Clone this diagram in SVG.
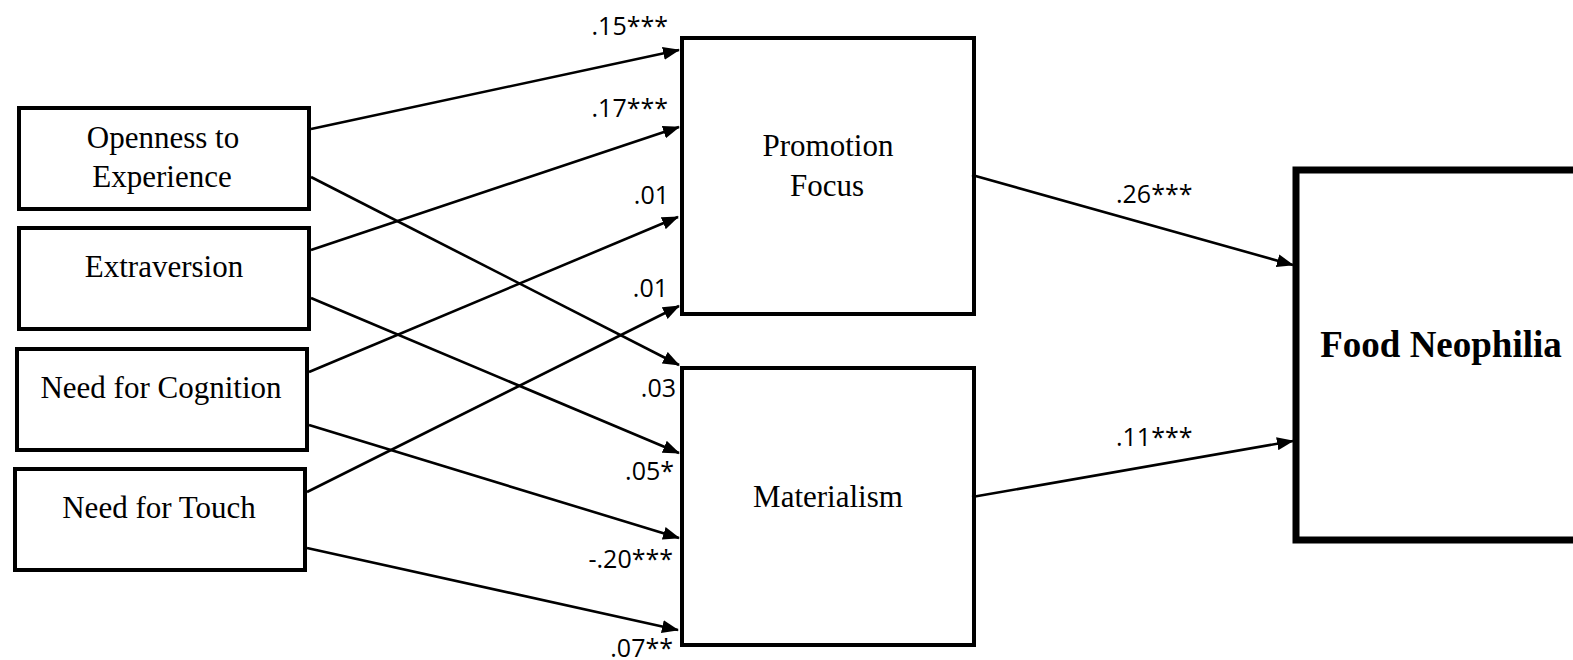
<svg xmlns="http://www.w3.org/2000/svg" width="1573" height="660" viewBox="0 0 1573 660">
  <style>
    .box { fill: #fff; stroke: #000; stroke-width: 4; }
    .outcome { fill: #fff; stroke: #000; stroke-width: 7; }
    .lbl { font-family: "Liberation Serif", "Times New Roman", serif; font-size: 31px; fill: #000; text-anchor: middle; }
    .bold { font-weight: bold; font-size: 37px; }
    .coef { font-family: "Open Sans", "Liberation Sans", sans-serif; font-size: 25px; fill: #000; }
    .path { stroke: #000; stroke-width: 2.6; fill: none; marker-end: url(#arrow); }
  </style>
  <defs>
    <marker id="arrow" markerUnits="userSpaceOnUse" markerWidth="17" markerHeight="13" refX="16" refY="6.5" orient="auto">
      <path d="M0,0 L17,6.5 L0,13 z" fill="#000"/>
    </marker>
  </defs>
  <rect width="1573" height="660" fill="#fff"/>

  <!-- predictors -->
  <g id="openness">
    <rect class="box" x="19" y="108" width="290" height="101"/>
    <text class="lbl" x="163" y="148">Openness to</text>
    <text class="lbl" x="162" y="187">Experience</text>
  </g>
  <g id="extraversion">
    <rect class="box" x="19" y="228" width="290" height="101"/>
    <text class="lbl" x="164" y="277">Extraversion</text>
  </g>
  <g id="need-for-cognition">
    <rect class="box" x="17" y="349" width="290" height="101"/>
    <text class="lbl" x="161" y="398">Need for Cognition</text>
  </g>
  <g id="need-for-touch">
    <rect class="box" x="15" y="469" width="290" height="101"/>
    <text class="lbl" x="159" y="518">Need for Touch</text>
  </g>

  <!-- mediators -->
  <g id="promotion-focus">
    <rect class="box" x="682" y="38" width="292" height="276"/>
    <text class="lbl" x="828" y="156">Promotion</text>
    <text class="lbl" x="827" y="196">Focus</text>
  </g>
  <g id="materialism">
    <rect class="box" x="682" y="368" width="292" height="277"/>
    <text class="lbl" x="828" y="507">Materialism</text>
  </g>

  <!-- outcome -->
  <g id="food-neophilia">
    <rect class="outcome" x="1296" y="170" width="300" height="370"/>
    <text class="lbl bold" x="1441" y="357">Food Neophilia</text>
  </g>

  <!-- paths -->
  <g id="connectors">
    <line class="path" x1="311" y1="129" x2="679" y2="50"/>
    <line class="path" x1="311" y1="250" x2="679" y2="127"/>
    <line class="path" x1="309" y1="372" x2="678" y2="217"/>
    <line class="path" x1="307" y1="492" x2="679" y2="306"/>
    <line class="path" x1="311" y1="177" x2="679" y2="365"/>
    <line class="path" x1="311" y1="298" x2="679" y2="453"/>
    <line class="path" x1="309" y1="425" x2="679" y2="538"/>
    <line class="path" x1="307" y1="548" x2="678" y2="630"/>
    <line class="path" x1="972" y1="175" x2="1293" y2="265"/>
    <line class="path" x1="972" y1="497" x2="1293" y2="441"/>
  </g>

  <!-- path coefficients -->
  <g id="coefficients" class="coef">
    <text x="668" y="35" text-anchor="end">.15***</text>
    <text x="668" y="117" text-anchor="end">.17***</text>
    <text x="669" y="204" text-anchor="end">.01</text>
    <text x="668" y="297" text-anchor="end">.01</text>
    <text x="676" y="397" text-anchor="end">.03</text>
    <text x="674" y="480" text-anchor="end">.05*</text>
    <text x="673" y="568" text-anchor="end">-.20***</text>
    <text x="673" y="657" text-anchor="end">.07**</text>
    <text x="1116" y="203">.26***</text>
    <text x="1116" y="446">.11***</text>
  </g>
</svg>
